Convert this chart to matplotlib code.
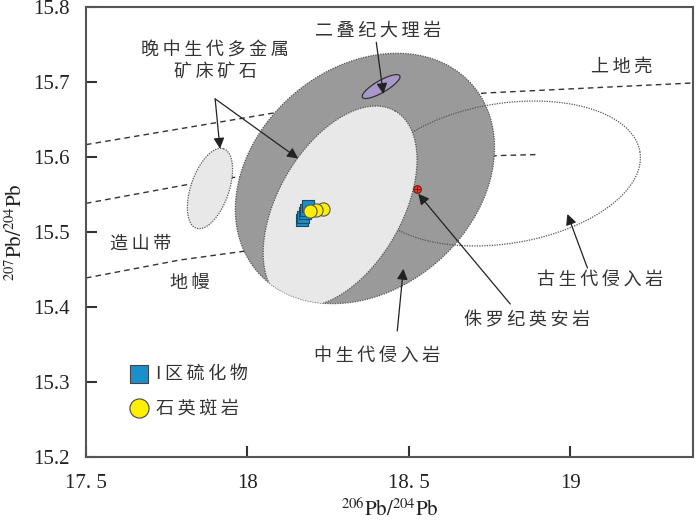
import numpy as np
import matplotlib
matplotlib.use("Agg")
import matplotlib.pyplot as plt
from matplotlib.patches import Polygon

plt.rcParams['font.family'] = ['Noto Sans CJK SC', 'DejaVu Sans']
plt.rcParams['mathtext.fontset'] = 'stix'

# data
# lead evolution curves (206Pb/204Pb, 207Pb/204Pb)
crust_x = [17.5, 18.12, 18.74, 19.38]
crust_y = [15.6165, 15.6615, 15.6854, 15.6987]
orogen_x = [17.5, 17.816, 17.956, 18.30, 18.777, 18.892]
orogen_y = [15.5382, 15.5634, 15.5727, 15.585, 15.6019, 15.6032]
mantle_x = [17.5, 17.79, 18.0]
mantle_y = [15.4387, 15.4626, 15.475]

# fields: centre x, centre y, semi-axis a, semi-axis b (x units), angle (deg)
meso_intrusive = (18.364, 15.5714, 0.441, 0.342, 41)
meso_ore = (18.287, 15.5342, 0.341, 0.192, 60)
paleo_intrusive = (18.796, 15.578, 0.425, 0.217, 9)
ore_small = (17.884, 15.558, 0.130, 0.059, 71)
permian_marble = (18.414, 15.6939, 0.0667, 0.0186, 30)

# samples
sulfide_x = [18.1696, 18.1727, 18.1773, 18.182, 18.188]
sulfide_y = [15.5156, 15.5203, 15.5249, 15.5296, 15.534]
porphyry_x = [18.233, 18.213, 18.1926]
porphyry_y = [15.531, 15.5296, 15.5276]
dacite_x = [18.526]
dacite_y = [15.5568]

xticks = [17.5, 18, 18.5, 19]
xticklabels = ['17. 5', '18', '18. 5', '19']
yticks = [15.2, 15.3, 15.4, 15.5, 15.6, 15.7, 15.8]

fig = plt.figure(figsize=(7, 5.22), dpi=100)
ax = fig.add_axes([86/700, 65/522, 607/700, 450/522])
ax.set_xlim(17.5, 19.38)
ax.set_ylim(15.2, 15.8)

# y data units per x data unit for equal-looking pixels
bb = ax.get_window_extent()
ratio = (0.6 / bb.height) / (1.88 / bb.width)


def ellipse_pts(e, n=200):
    cx, cy, a, b, ang = e
    t = np.linspace(0, 2 * np.pi, n)
    th = np.radians(ang)
    u = a * np.cos(t)
    v = b * np.sin(t)
    du = u * np.cos(th) - v * np.sin(th)
    dv = u * np.sin(th) + v * np.cos(th)
    return np.column_stack([cx + du, cy + dv * ratio])


dash = dict(color='#333333', lw=1.0, ls=(0, (4, 3)), zorder=1)
ax.plot(crust_x, crust_y, **dash)
ax.plot(orogen_x, orogen_y, **dash)
ax.plot(mantle_x, mantle_y, **dash)

edge = dict(edgecolor='#555555', lw=0.9, ls=(0, (1, 1)))
big = Polygon(ellipse_pts(meso_intrusive), closed=True, facecolor='#9a9a9a', zorder=2, **edge)
ax.add_patch(big)
ax.add_patch(Polygon(ellipse_pts(paleo_intrusive), closed=True, facecolor='none', zorder=3, **edge))
light = Polygon(ellipse_pts(meso_ore), closed=True, facecolor='#e8e8e8', zorder=4, **edge)
ax.add_patch(light)
light.set_clip_path(big)
ax.add_patch(Polygon(ellipse_pts(ore_small), closed=True, facecolor='#e8e8e8', zorder=4, **edge))
ax.add_patch(Polygon(ellipse_pts(permian_marble), closed=True, facecolor='#a897c8',
                     edgecolor='#333333', lw=0.9, zorder=5))

ax.scatter(sulfide_x, sulfide_y, marker='s', s=65, c='#1b8fca', edgecolors='#1e4a66', lw=0.8, zorder=6)
ax.scatter(porphyry_x, porphyry_y, marker='o', s=90, c='#fff000', edgecolors='#555555', lw=0.8, zorder=7)
ax.scatter(dacite_x, dacite_y, marker='o', s=30, c='#e8382a', edgecolors='#6b1a12', lw=0.8, zorder=7)
ax.plot(dacite_x, dacite_y, marker='+', ms=5, color='#6b1a12', mew=0.6, zorder=8)


def sp(s):
    return '\u2009'.join(s)


txt = dict(fontsize=13, color='#333333', ha='center', va='center', zorder=9)
arr = dict(arrowstyle='-|>', color='#222222', lw=0.9, mutation_scale=16, shrinkA=0, shrinkB=0)

ax.text(18.405, 15.768, sp('二叠纪大理岩'), **txt)
ax.annotate('', xy=(18.421, 15.684), xytext=(18.399, 15.753), arrowprops=arr, zorder=9)

ax.text(17.9, 15.742, sp('晚中生代多金属'), **txt)
ax.text(17.9, 15.714, sp('矿床矿石'), **txt)
ax.annotate('', xy=(17.915, 15.611), xytext=(17.90, 15.6775), arrowprops=arr, zorder=9)
ax.annotate('', xy=(18.157, 15.598), xytext=(17.90, 15.6775), arrowprops=arr, zorder=9)

ax.text(19.16, 15.72, sp('上地壳'), **txt)
ax.text(17.67, 15.484, sp('造山带'), **txt)
ax.text(17.82, 15.432, sp('地幔'), **txt)

ax.text(18.402, 15.335, sp('中生代侵入岩'), **txt)
ax.annotate('', xy=(18.483, 15.451), xytext=(18.464, 15.368), arrowprops=arr, zorder=9)

ax.text(19.093, 15.437, sp('古生代侵入岩'), **txt)
ax.annotate('', xy=(18.991, 15.524), xytext=(19.053, 15.452), arrowprops=arr, zorder=9)

ax.text(18.867, 15.382, sp('侏罗纪英安岩'), **txt)
ax.annotate('', xy=(18.529, 15.551), xytext=(18.814, 15.404), arrowprops=arr, zorder=9)

# legend
ax.scatter([17.664], [15.311], marker='s', s=150, c='#1b8fca', edgecolors='#444444', lw=0.8, zorder=9)
ax.scatter([17.664], [15.265], marker='o', s=190, c='#fff000', edgecolors='#444444', lw=0.8, zorder=9)
ax.text(17.717, 15.311, sp('I区硫化物'), fontsize=13, color='#333333', ha='left', va='center')
ax.text(17.717, 15.265, sp('石英斑岩'), fontsize=13, color='#333333', ha='left', va='center')

ax.set_xticks(xticks)
ax.set_xticklabels(xticklabels)
ax.set_yticks(yticks)
ax.set_yticklabels([f'{v:.1f}' for v in yticks])
ax.tick_params(direction='in', length=8, width=1.5, color='#333333', labelsize=15, pad=12)
for lab in ax.get_xticklabels() + ax.get_yticklabels():
    lab.set_family('Liberation Serif')
    lab.set_color('#222222')
for s in ax.spines.values():
    s.set_color('#555555')
    s.set_linewidth(1.5)

ax.set_xlabel(r'$^{206}\mathrm{Pb}/^{204}\mathrm{Pb}$', fontsize=15, color='#222222', labelpad=4)
ax.set_ylabel(r'$^{207}\mathrm{Pb}/^{204}\mathrm{Pb}$', fontsize=15, color='#222222', labelpad=4)

fig.savefig('out.png', dpi=100)
